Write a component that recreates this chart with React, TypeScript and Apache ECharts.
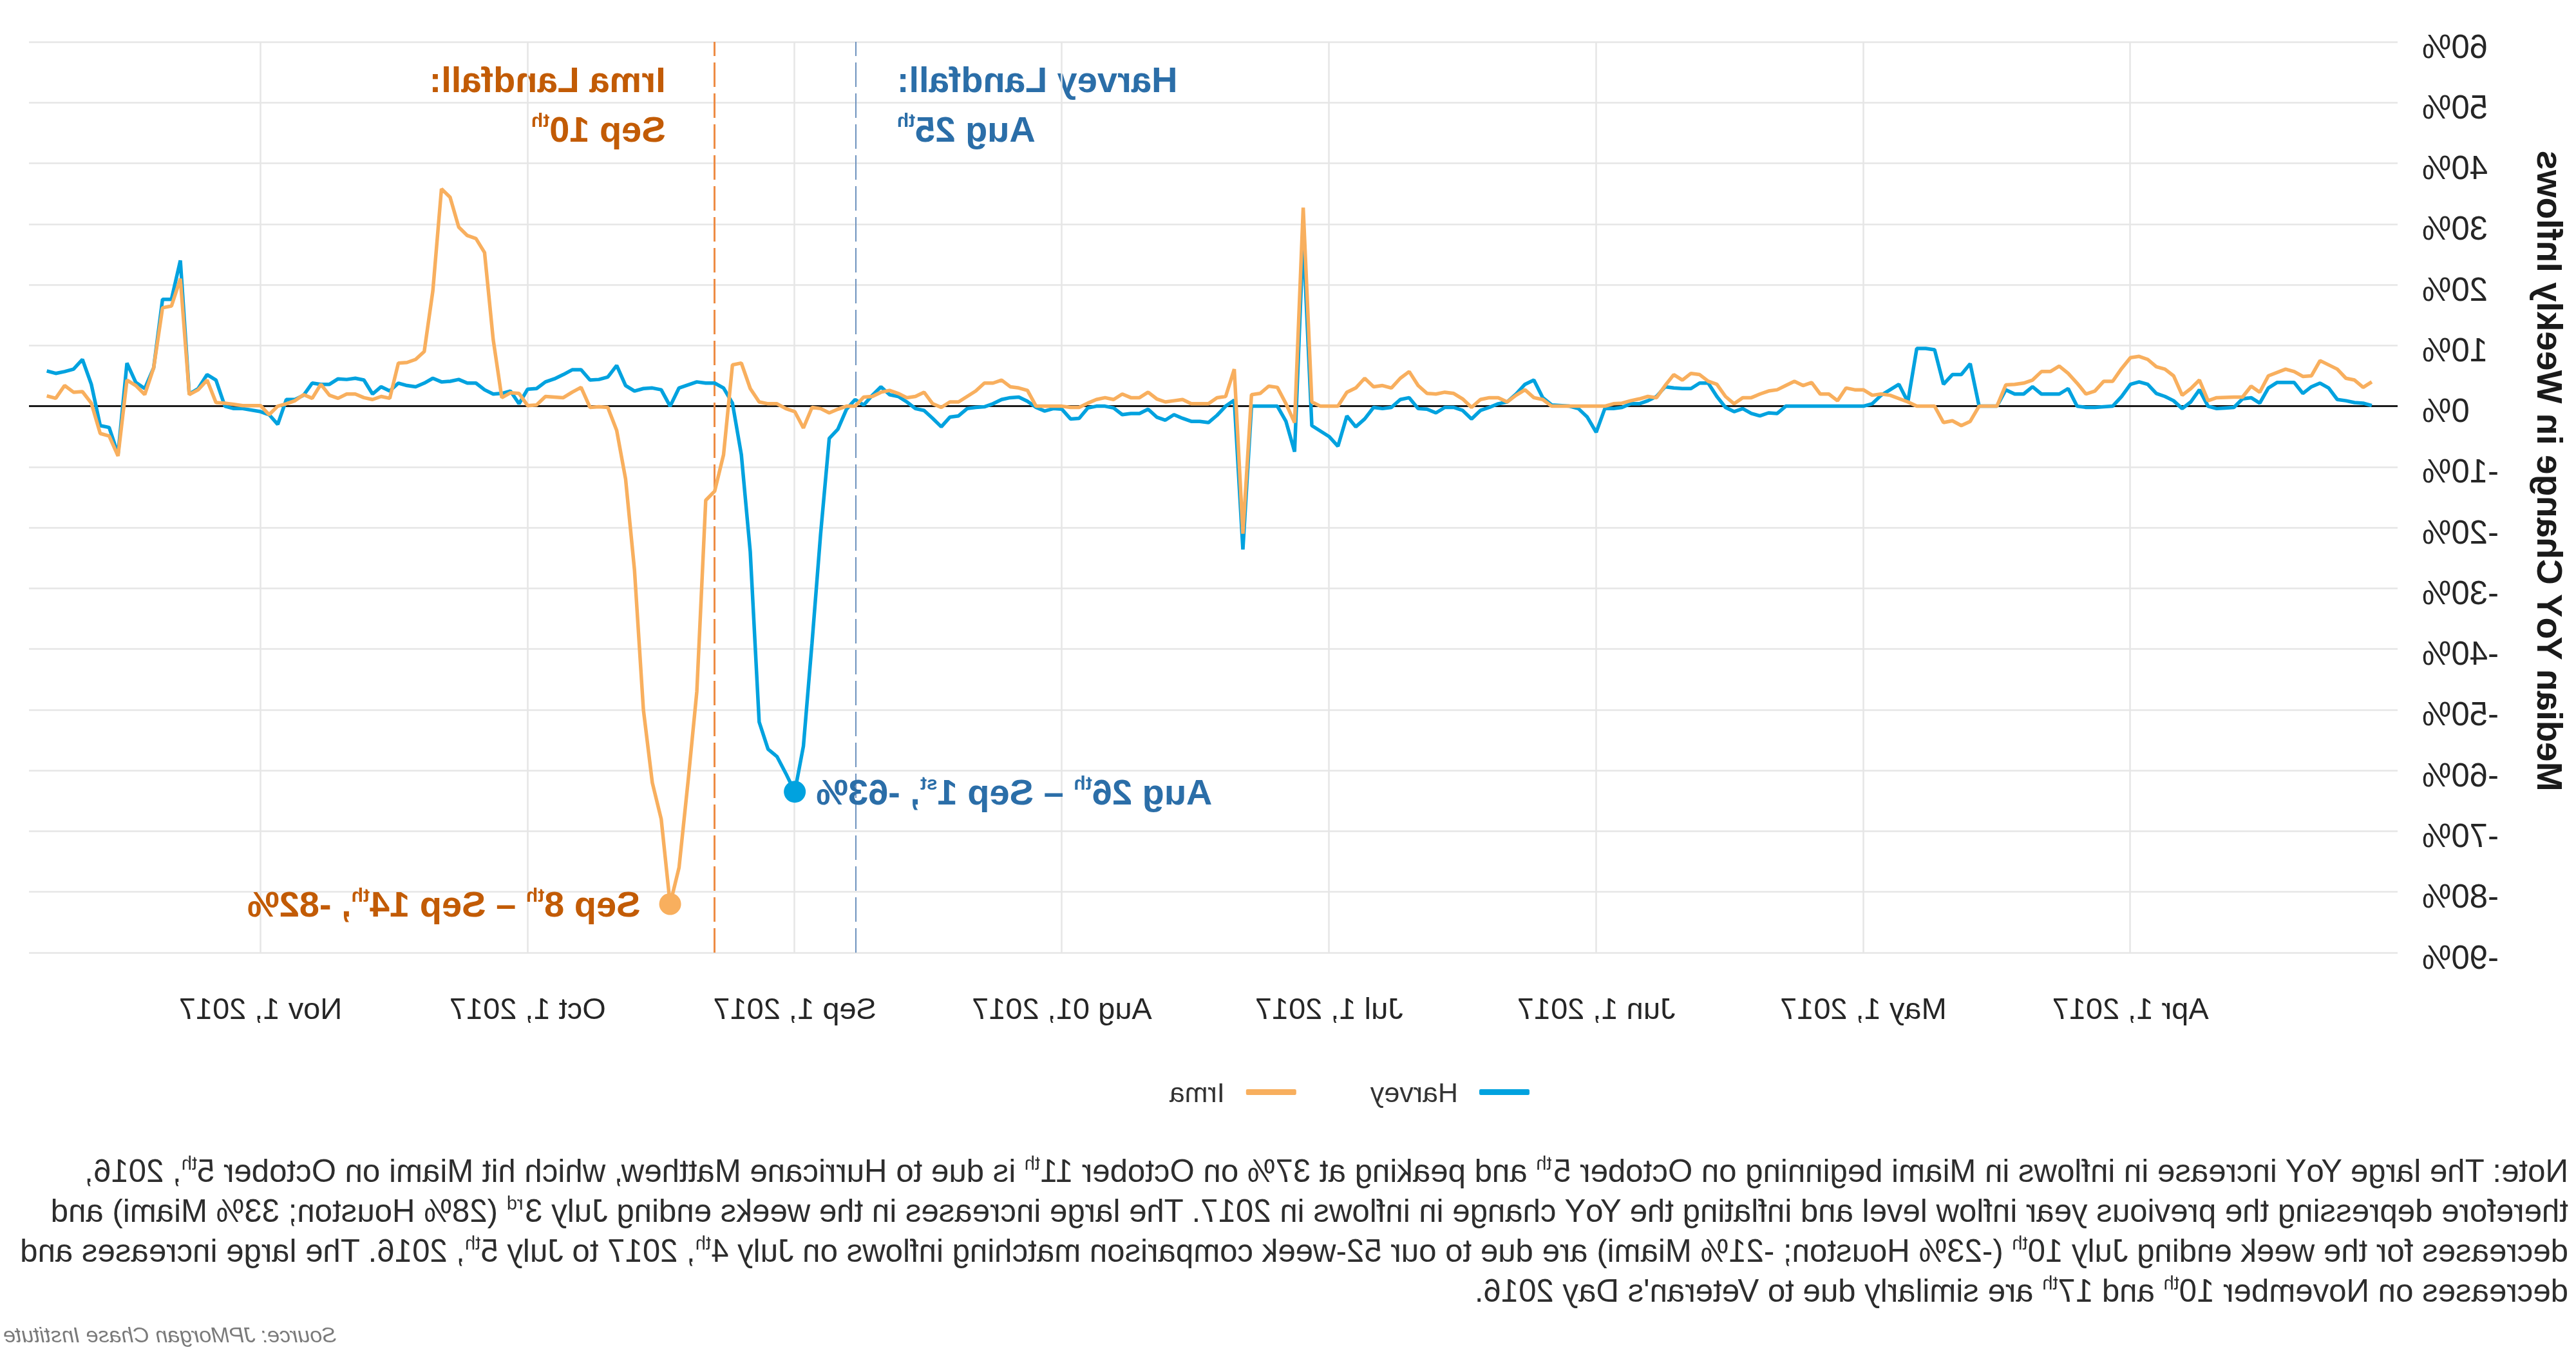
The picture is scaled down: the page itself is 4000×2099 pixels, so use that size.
import React, { useEffect, useRef } from 'react';
import * as echarts from 'echarts';

const FONT = "'Liberation Sans', Arial, sans-serif";
const W = 4000;
const H = 2099;

const HARVEY = '#00A2DF';
const IRMA = '#F8AF5E';
const HARVEY_TXT = '#2B6EA8';
const IRMA_TXT = '#C25B05';

// x-axis tick labels (one per month start, Apr .. Nov 2017)
const xTickLabels = ['Apr 1, 2017', 'May 1, 2017', 'Jun 1, 2017', 'Jul 1, 2017', 'Aug 01, 2017', 'Sep 1, 2017', 'Oct 1, 2017', 'Nov 1, 2017'];
const yMin = -90;
const yMax = 60;
const yStep = 10;

// Harvey (Houston): [day, median YoY change in weekly inflows, %]
const harveyMar = [[4,0.1],[5,0.5],[6,0.6],[7,0.9],[8,1.1],[9,3.0],[10,3.8],[11,3.2],[12,2.1],[13,3.9],[14,3.9],[15,3.9],[16,3.0],[17,0.5],[18,1.4],[19,1.2],[20,-0.2],[21,-0.3],[22,-0.4],[23,0],[24,2.7],[25,0.7],[26,-0.4],[27,0.9],[28,1.6],[29,2.1],[30,3.6],[31,4.0]];
const harveyApr = [[1,3.6],[2,1.6],[3,0],[4,-0.1],[5,-0.2],[6,-0.2],[7,0],[8,2.9],[9,2.0],[10,2.0],[11,2.0],[12,3.2],[13,2.0],[14,2.0],[15,2.7],[16,0],[17,0],[18,0],[19,7.0],[20,5.2],[21,5.2],[22,3.6],[23,9.3],[24,9.5],[25,9.5],[26,0.7],[27,3.6],[28,2.7],[29,1.8],[30,0.4]];
const harveyMay = [[1,0],[10,0],[11,-1.2],[12,-1.1],[13,-1.6],[14,-1.2],[15,-0.4],[16,-0.9],[17,-0.2],[18,1.6],[19,3.8],[20,3.8],[21,2.9],[22,2.9],[23,3.0],[24,3.2],[25,1.6],[26,0.9],[27,0.4],[28,0.4],[29,-0.2],[30,-0.4],[31,-0.4]];
const harveyJun = [[1,-4.3],[2,-1.8],[3,-0.4],[4,0],[6,0.2],[7,1.4],[8,4.3],[9,3.6],[10,2.0],[11,0.7],[12,0.4],[13,-0.2],[14,-0.7],[15,-2.1],[16,-0.7],[17,-0.2],[18,-0.2],[19,-1.1],[20,-0.5],[21,-0.4],[22,1.4],[23,1.1],[24,-0.2],[25,-0.4],[26,-0.2],[27,-2.1],[28,-3.4],[29,-1.6],[30,-6.6]];
const harveyJul = [[1,-5.0],[2,-4.1],[3,-3.2],[4,28],[5,-7.5],[6,-2.5],[7,0],[8,0],[9,0],[10,0],[11,-23.6],[12,1.0],[13,0],[14,-1.5],[15,-2.7],[16,-2.5],[17,-2.5],[18,-2.0],[19,-1.4],[20,-2.3],[21,-1.8],[22,-0.5],[23,-1.2],[24,-1.2],[25,-1.4],[26,-0.3],[27,0],[28,0],[29,-0.3],[30,-2.0],[31,-2.1]];
const harveyAug = [[1,-0.5],[2,-0.4],[3,-0.8],[4,-0.2],[5,0.8],[6,1.5],[7,1.4],[8,1.1],[9,0.4],[10,-0.1],[11,-0.2],[12,-0.4],[13,-1.6],[14,-1.8],[15,-3.4],[16,-2.0],[17,-0.7],[18,-0.4],[19,0.7],[20,1.6],[21,1.9],[22,3.2],[23,1.8],[24,0.2],[25,1.1],[26,-0.5],[27,-3.8],[28,-5.3],[29,-21],[30,-39],[31,-56]];
const harveySep = [[1,-63.5],[2,-60.5],[3,-57.7],[4,-56.5],[5,-52],[6,-24],[7,-8],[8,0.5],[9,3.0],[10,3.8],[11,3.8],[12,4.0],[13,3.5],[14,3.0],[15,0],[16,2.7],[17,3.0],[18,2.9],[19,2.5],[20,3.4],[21,6.7],[22,4.8],[23,4.4],[24,4.3],[25,6.0],[26,6.0],[27,5.2],[28,4.5],[29,4.0],[30,2.9]];
const harveyOct = [[1,2.8],[2,0.4],[3,2.5],[4,2.1],[5,2.0],[6,2.7],[7,3.8],[8,3.8],[9,4.4],[10,4.1],[11,4.0],[12,4.6],[13,3.8],[14,3.2],[15,3.4],[16,3.8],[17,2.5],[18,3.2],[19,2.0],[20,4.3],[21,4.6],[22,4.4],[23,4.5],[24,3.6],[25,3.6],[26,3.8],[27,1.8],[28,1.1],[29,1.1],[30,-3.0],[31,-1.4]];
const harveyNov = [[1,-0.9],[3,-0.4],[4,-0.4],[5,0],[6,4.3],[7,5.2],[8,2.9],[9,2.0],[10,24],[11,17.6],[12,17.6],[13,6.3],[14,2.9],[15,3.9],[16,7.1],[17,-7.9],[18,-3.5],[19,-3.2],[20,3.6],[21,7.7],[22,6.1],[23,5.7],[24,5.4],[25,5.8]];

// Irma (Miami): [day, median YoY change in weekly inflows, %]
const irmaMar = [[4,4.0],[5,3.1],[6,4.3],[7,4.6],[8,6.1],[10,7.5],[11,5.0],[12,4.9],[13,5.7],[14,6.1],[16,5.0],[17,2.3],[18,3.3],[19,1.5],[20,1.5],[22,1.4],[23,0.9],[24,4.3],[25,2.9],[26,1.8],[27,5.0],[28,6.1],[29,6.5],[30,7.7],[31,8.2]];
const irmaApr = [[1,8.0],[2,6.2],[3,4.1],[4,4.1],[5,2.5],[6,2.0],[7,3.8],[8,5.4],[9,6.6],[10,5.7],[11,5.7],[12,4.3],[13,3.8],[14,3.6],[15,3.5],[16,0],[17,0],[18,0],[19,-2.5],[20,-3.2],[21,-2.4],[22,-2.7],[23,0],[24,0],[25,0],[26,0.7],[28,1.8],[29,2.0],[30,1.8]];
const irmaMay = [[1,2.7],[2,2.7],[3,3.0],[4,0.9],[5,2.0],[6,2.0],[7,3.9],[8,3.4],[9,4.1],[10,3.4],[11,2.7],[12,2.5],[13,2.0],[14,1.4],[15,1.4],[16,0.4],[17,1.6],[18,3.6],[19,4.1],[20,5.2],[21,5.4],[22,4.3],[23,5.2],[24,3.4],[25,1.4],[26,1.6],[27,1.2],[28,0.9],[29,0.5],[30,0.4],[31,0]];
const irmaJun = [[3,0],[6,0],[7,1.1],[8,1.4],[9,2.7],[10,1.8],[11,0.7],[12,1.4],[13,1.4],[14,1.1],[15,-0.2],[16,1.2],[17,2.1],[18,2.3],[19,2.0],[20,2.1],[21,3.4],[22,5.7],[23,4.6],[24,3.0],[25,3.4],[26,3.2],[27,4.6],[28,3.0],[29,2.3],[30,0]];
const irmaJul = [[2,0],[3,0.7],[4,32.7],[5,-2.7],[6,0.4],[7,3.1],[8,3.3],[9,2.1],[10,1.9],[11,-21],[12,6.1],[13,1.6],[14,1.4],[15,0.4],[16,0.4],[17,0.4],[18,1.1],[19,0.9],[20,0.7],[21,1.2],[22,2.3],[23,1.4],[24,1.4],[25,2.0],[26,1.1],[27,1.4],[28,1.1],[29,0.5],[30,-0.2],[31,-0.2]];
const irmaAug = [[1,0],[4,0],[5,2.6],[6,3.0],[7,3.2],[8,4.3],[9,3.8],[10,3.8],[11,2.5],[12,1.6],[13,0.7],[14,0.7],[15,-0.2],[16,0.4],[17,2.3],[18,1.6],[19,1.4],[20,2.1],[21,2.6],[22,2.3],[23,1.6],[24,1.5],[25,0],[26,0],[27,-0.5],[28,-1.1],[29,-0.4],[30,-0.2],[31,-3.6]];
const irmaSep = [[1,-0.9],[2,-0.4],[3,0.4],[4,0.4],[5,0.7],[6,2.9],[7,7.1],[8,6.8],[9,-8],[10,-14],[11,-15.5],[12,-47],[13,-62],[14,-76],[15,-82],[16,-68],[17,-62],[18,-50],[19,-27],[20,-12],[21,-4],[22,-0.2],[23,-0.1],[24,-0.2],[25,3.1],[26,2.3],[27,1.4],[28,1.5],[29,1.6],[30,0.2]];
const irmaOct = [[1,0.1],[2,2.1],[3,2.2],[4,1.4],[5,11],[6,25.3],[7,27.6],[8,28.1],[9,29.5],[10,34.4],[11,35.8],[12,19],[13,9.0],[14,7.7],[15,7.2],[16,7.1],[17,1.3],[18,1.6],[19,1.1],[20,1.4],[21,2.0],[22,2.0],[23,1.3],[24,1.8],[25,3.6],[26,1.3],[27,1.9],[28,0.9],[29,0.4],[30,0],[31,-1.4]];
const irmaNov = [[1,0.1],[3,0.1],[4,0.3],[5,0.5],[6,0.6],[7,4.3],[8,2.7],[9,1.9],[10,21],[11,16.5],[12,16.2],[13,6.3],[14,1.9],[15,3.4],[16,4.3],[17,-8.2],[18,-4.9],[19,-4.5],[20,0.5],[21,2.4],[22,2.3],[23,3.4],[24,1.3],[25,1.7]];

// landfall dates [month, day]
const harveyLandfall = [8, 25];
const irmaLandfall = [9, 10];
// axis extent [month, day]
const axisStart = [3, 1];
const axisEnd = [11, 27];

const MONTH_DAYS: Record<number, number> = { 3: 31, 4: 30, 5: 31, 6: 30, 7: 31, 8: 31, 9: 30, 10: 31, 11: 30 };
// months are equally spaced on this chart: Apr 1 = 0, May 1 = 1, ...
const monthPos = (month: number, day: number) => (month - 4) + (day - 1) / MONTH_DAYS[month];

const toSeries = (months: [number, number[][]][]) =>
  months.flatMap(([m, rows]) => rows.map(([d, v]) => [monthPos(m, d), v]));

const harveyData = toSeries([[3, harveyMar], [4, harveyApr], [5, harveyMay], [6, harveyJun], [7, harveyJul], [8, harveyAug], [9, harveySep], [10, harveyOct], [11, harveyNov]]);
const irmaData = toSeries([[3, irmaMar], [4, irmaApr], [5, irmaMay], [6, irmaJun], [7, irmaJul], [8, irmaAug], [9, irmaSep], [10, irmaOct], [11, irmaNov]]);

const lowest = (data: number[][]) => data.reduce((a, b) => (b[1] < a[1] ? b : a));

export default function App() {
  const ref = useRef<HTMLDivElement>(null);

  useEffect(() => {
    const el = ref.current;
    if (!el) return;
    const chart = echarts.init(el, undefined, { renderer: 'svg', width: W, height: H });

    const harveyLow = lowest(harveyData);
    const irmaLow = lowest(irmaData);
    const hLand = monthPos(harveyLandfall[0], harveyLandfall[1]);
    const iLand = monthPos(irmaLandfall[0], irmaLandfall[1]);

    const bold = (size: number, color: string) => ({ fontSize: size, fontWeight: 'bold', fontFamily: FONT, color, lineHeight: 58 });
    const sup = (color: string) => ({ fontSize: 30, fontWeight: 'bold', fontFamily: FONT, color, lineHeight: 30, verticalAlign: 'top' });

    const gridV = xTickLabels.map((_, i) => ({ xAxis: i, lineStyle: { color: '#E6E6E6', width: 2.5, type: 'solid' } }));

    const option: any = {
      animation: false,
      backgroundColor: '#ffffff',
      grid: { left: 277, right: 45, top: 65, bottom: H - 1479, containLabel: false },
      xAxis: {
        type: 'value',
        min: monthPos(axisStart[0], axisStart[1]),
        max: monthPos(axisEnd[0], axisEnd[1]),
        interval: 1,
        axisLine: { show: false },
        axisTick: { show: false },
        splitLine: { show: false },
        axisLabel: {
          margin: 63,
          fontSize: 47,
          fontFamily: FONT,
          color: '#262626',
          formatter: (v: number) => {
            const i = Math.round(v);
            return Math.abs(v - i) < 1e-6 && i >= 0 && i < xTickLabels.length ? xTickLabels[i] : '';
          },
        },
      },
      yAxis: {
        type: 'value',
        min: yMin,
        max: yMax,
        interval: yStep,
        axisLine: { show: false },
        axisTick: { show: false },
        splitLine: { lineStyle: { color: '#E6E6E6', width: 2.5 } },
        axisLabel: {
          margin: 38,
          fontSize: 51,
          fontFamily: FONT,
          color: '#262626',
          formatter: (v: number) => `{a|${v}%}`,
          rich: { a: { fontSize: 51, fontFamily: FONT, color: '#262626', padding: [14, 0, 0, 0] } },
        },
      },
      legend: {
        data: ['Harvey', 'Irma'],
        left: 1620,
        top: 1669,
        icon: 'roundRect',
        itemWidth: 78,
        itemHeight: 9,
        itemGap: 115,
        selectedMode: false,
        textStyle: { fontSize: 43, fontFamily: FONT, color: '#333', padding: [0, 0, 0, 28] },
      },
      series: [
        {
          name: 'Harvey',
          type: 'line',
          data: harveyData,
          symbol: 'none',
          showSymbol: false,
          z: 3,
          lineStyle: { color: HARVEY, width: 5.5 },
          itemStyle: { color: HARVEY },
          emphasis: { disabled: true },
          markLine: {
            silent: true,
            z: 1,
            symbol: ['none', 'none'],
            label: { show: false },
            emphasis: { disabled: true },
            data: [
              ...gridV,
              { yAxis: 0, lineStyle: { color: '#1a1a1a', width: 3, type: 'solid' } },
              { xAxis: hLand, lineStyle: { color: '#6F93BE', width: 2, type: [38, 10] } },
              { xAxis: iLand, lineStyle: { color: '#EE8C45', width: 3, type: [38, 10] } },
            ],
          },
          markPoint: {
            symbol: 'circle',
            symbolSize: 34,
            z: 6,
            itemStyle: { color: HARVEY },
            emphasis: { disabled: true },
            data: [{
              coord: harveyLow,
              label: {
                show: true,
                position: 'left',
                distance: 16,
                formatter: '{b|Aug 26}{s|th}{b| – Sep 1}{s|st}{b|, -63%}',
                rich: { b: bold(56, HARVEY_TXT), s: sup(HARVEY_TXT) },
              },
            }],
          },
        },
        {
          name: 'Irma',
          type: 'line',
          data: irmaData,
          symbol: 'none',
          showSymbol: false,
          z: 4,
          lineStyle: { color: IRMA, width: 5.5 },
          itemStyle: { color: IRMA },
          emphasis: { disabled: true },
          markPoint: {
            symbol: 'circle',
            symbolSize: 34,
            z: 6,
            itemStyle: { color: IRMA },
            emphasis: { disabled: true },
            data: [{
              coord: irmaLow,
              label: {
                show: true,
                position: 'right',
                distance: 29,
                formatter: '{b|Sep 8}{s|th}{b| – Sep 14}{s|th}{b|, -82%}',
                rich: { b: bold(56, IRMA_TXT), s: sup(IRMA_TXT) },
              },
            }],
          },
        },
      ],
    };

    chart.setOption(option);

    const hx = chart.convertToPixel({ gridIndex: 0 }, [hLand, 0])[0];
    const ix = chart.convertToPixel({ gridIndex: 0 }, [iLand, 0])[0];

    const gBold = (fill: string) => ({ fontSize: 56, fontWeight: 'bold', fontFamily: FONT, fill, lineHeight: 58 });
    const gSup = (fill: string) => ({ fontSize: 30, fontWeight: 'bold', fontFamily: FONT, fill, lineHeight: 30, verticalAlign: 'top' });
    const nTxt = { fontSize: 49.2, fontFamily: FONT, fill: '#2d2d2d', lineHeight: 52 };
    const nSup = { fontSize: 29, fontFamily: FONT, fill: '#2d2d2d', lineHeight: 29, verticalAlign: 'top' };

    const noteLines = [
      '{n|Note: The large YoY increase in inflows in Miami beginning on October 5}{s|th}{n| and peaking at 37% on October 11}{s|th}{n| is due to Hurricane Matthew, which hit Miami on October 5}{s|th}{n|, 2016,}',
      '{n|therefore depressing the previous year inflow level and inflating the YoY change in inflows in 2017. The large increases in the weeks ending July 3}{s|rd}{n| (28% Houston; 33% Miami) and}',
      '{n|decreases for the week ending July 10}{s|th}{n| (-23% Houston; -21% Miami) are due to our 52-week comparison matching inflows on July 4}{s|th}{n|, 2017 to July 5}{s|th}{n|, 2016. The large increases and}',
      '{n|decreases on November 10}{s|th}{n| and 17}{s|th}{n| are similarly due to Veteran\'s Day 2016.}',
    ];

    chart.setOption({
      graphic: [
        {
          type: 'text', x: 41, y: 731, rotation: Math.PI / 2, silent: true,
          style: { text: 'Median YoY Change in Weekly Inflows', fontSize: 55, fontWeight: 'bold', fontFamily: FONT, fill: '#1a1a1a', align: 'center', verticalAlign: 'middle' },
        },
        {
          type: 'text', x: hx - 65, y: 123, silent: true,
          style: { text: 'Harvey Landfall:', fontSize: 56, fontWeight: 'bold', fontFamily: FONT, fill: HARVEY_TXT, align: 'right', verticalAlign: 'middle' },
        },
        {
          type: 'text', x: hx - 65, y: 200, silent: true,
          style: { text: '{b|Aug 25}{s|th}', rich: { b: gBold(HARVEY_TXT), s: gSup(HARVEY_TXT) }, align: 'right', verticalAlign: 'middle' },
        },
        {
          type: 'text', x: ix + 76, y: 123, silent: true,
          style: { text: 'Irma Landfall:', fontSize: 56, fontWeight: 'bold', fontFamily: FONT, fill: IRMA_TXT, align: 'left', verticalAlign: 'middle' },
        },
        {
          type: 'text', x: ix + 76, y: 200, silent: true,
          style: { text: '{b|Sep 10}{s|th}', rich: { b: gBold(IRMA_TXT), s: gSup(IRMA_TXT) }, align: 'left', verticalAlign: 'middle' },
        },
        ...noteLines.map((t, i) => ({
          type: 'text', x: 12, y: 1817 + i * 62, silent: true,
          style: { text: t, rich: { n: nTxt, s: nSup }, align: 'left', verticalAlign: 'middle' },
        })),
        {
          type: 'text', x: 3995, y: 2072, silent: true,
          style: { text: 'Source: JPMorgan Chase Institute', fontSize: 34, fontStyle: 'italic', fontFamily: FONT, fill: '#7a7a7a', align: 'right', verticalAlign: 'middle' },
        },
      ],
    });

    return () => chart.dispose();
  }, []);

  return (
    <div style={{ position: 'fixed', left: 0, top: 0, width: W, height: H, background: '#ffffff', transform: 'scaleX(-1)', overflow: 'hidden' }}>
      <div ref={ref} style={{ width: W, height: H }} />
    </div>
  );
}
